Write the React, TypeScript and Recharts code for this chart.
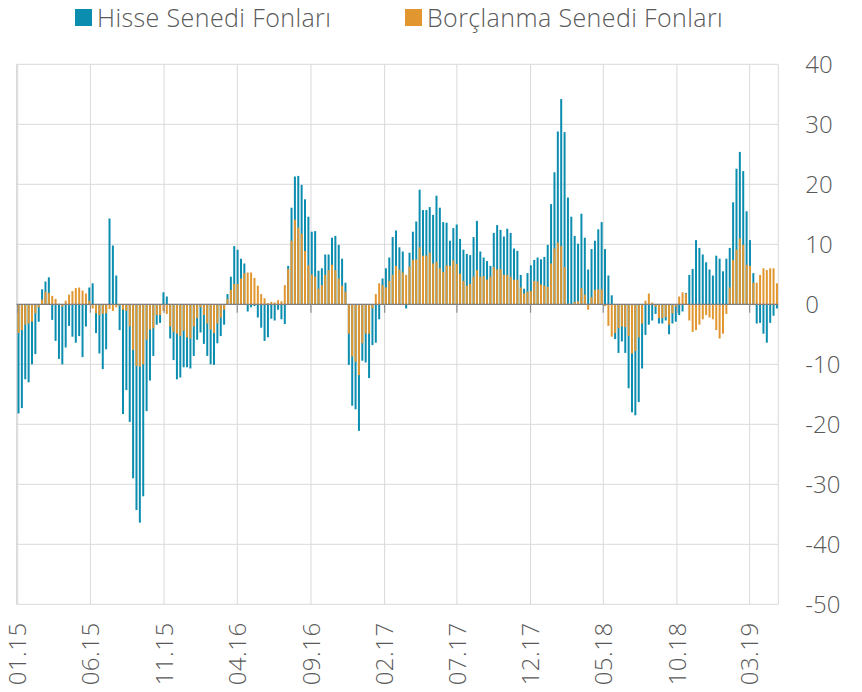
import React from 'react';
import { BarChart, Bar, XAxis, YAxis, CartesianGrid, ReferenceLine } from 'recharts';

// weekly flows, first observation on 02.01.2015 (day 1 counted from 01.01.2015)
const firstDay = 1;

const tickLabels = ['01.15', '06.15', '11.15', '04.16', '09.16', '02.17', '07.17', '12.17', '05.18', '10.18', '03.19'];
const yTicks = [-50, -40, -30, -20, -10, 0, 10, 20, 30, 40];

const hisse = [
  -18.2, -17.3, -12.5, -13, -10, -8.3, -2.9, 2.5, 3.8, 4.5,
  -2.6, -6.1, -9.1, -10, -7.2, -3.6, -5.4, -6.4, -5.3, -8.8,
  -3.7, 2.8, 3.5, -4.8, -8.2, -10.8, -7.5, 14.3, 9.8, 4.8,
  -4.3, -18.3, -14.3, -19.6, -29, -34.3, -36.4, -32, -17.8, -12.7,
  -8.6, -3.4, -3.1, 2, 1.3, -5.7, -9.3, -12.5, -12.2, -10.5,
  -10.5, -10.7, -8.6, -5.9, -4.7, -6.6, -8.6, -10, -10.1, -6.5,
  -5.3, -3.4, 1.7, 4.6, 9.7, 9.1, 7.6, 6.8, -1.2, -0.5,
  -0.3, -2.2, -3.9, -6.1, -5.5, -2.4, -2.7, -0.9, -2.5, -3.3,
  6.4, 16.1, 21.3, 21.4, 19.9, 17.5, 14.6, 12.1, 12.2, 5.6,
  6, 8.3, 8.3, 11.1, 11.4, 9.9, 7.6, 3.6, -10.1, -16.9,
  -17.5, -21.1, -9.4, -9.7, -12.3, -6.8, -6.4, -2.5, 4.3, 6,
  7.8, 11.2, 12.3, 9.5, 8.8, -0.7, 8.6, 12.1, 13.8, 19.1,
  15.7, 15.7, 16.2, 14.9, 18.1, 16.1, 13.7, 13.6, 10.6, 12.7,
  13.3, 10.9, 9.1, 8.4, 8.2, 11.2, 13.9, 8.8, 7.8, 7.2,
  6.4, 11.9, 13.2, 12.4, 11.3, 12.6, 11.9, 9.3, 8.9, 4.9,
  2.6, 5.2, 6.5, 7.4, 7.8, 7.5, 7.9, 9.9, 16.7, 22,
  28.8, 34.2, 28.7, 17.8, 14.6, 11.4, 10.1, 15.1, 11.1, 5.8,
  9.2, 10.6, 12.5, 13.7, 9.2, 4.8, 1.5, -5.8, -8.1, -6.2,
  -8.1, -14, -18, -18.5, -16.3, -10.7, -5.1, -3.4, -2.7, -1.6,
  -3.2, -3.2, -2.7, -5, -3.2, -2.9, -1.8, -1.2, 1.9, 4.9,
  5.9, 10.7, 9.4, 8.3, 7, 5.8, 4.8, 8.1, 7.6, 5.5,
  7.6, 9.4, 17, 22.6, 25.4, 22.2, 15.5, 10.7, 5.2, -3.2,
  -3.1, -4.9, -6.4, -3.1, -1.9, -0.7,
];

const borclanma = [
  -4.8, -4.3, -3.4, -3.2, -2.9, -1.5, -0.5, 0.8, 2.1, 1.9,
  1.4, 0.9, 0.1, -0.4, 0.6, 1.6, 2.2, 2.7, 2.8, 2.3,
  1.8, 0.6, -0.7, -1.5, -1.8, -1.6, -1.5, -0.8, -1.1, -0.5,
  -0.2, -0.9, -1.1, -3.7, -7.6, -10.3, -10.4, -10, -5.9, -4.2,
  -4, -1.8, -1.8, -1.1, -1.6, -3.7, -4.6, -4.9, -5.3, -4.4,
  -5.5, -5.7, -3.7, -2.3, -0.5, -1.8, -3.2, -4.2, -4.8, -3.2,
  -2.2, -0.9, 0.9, 2.4, 3.4, 3.4, 4.3, 5.2, 5.3, 5.3,
  4.4, 3.1, 1.7, 1, 0.2, 0.4, 0.3, 0.7, 0.5, 3.2,
  5.9, 10.6, 14.1, 12.8, 11.8, 8.9, 6.5, 5, 4.6, 2.6,
  3.2, 4.9, 5.7, 6.6, 5.7, 4.3, 3.1, 2.1, -4.9, -8.7,
  -9.6, -11.8, -6.5, -4.9, -4.9, -0.7, 1.7, 3.5, 3.2, 2.8,
  3.9, 4.9, 6.4, 5.8, 5.3, 4.9, 6.3, 7.4, 7.5, 9.5,
  8.1, 8.1, 8.6, 6.8, 7.1, 6, 5.4, 6.5, 6.4, 7.3,
  6.7, 5.1, 3.9, 3.1, 3.4, 4.6, 5.7, 4.6, 4.7, 4.1,
  4.6, 6.2, 5.8, 5.9, 4.9, 4.9, 4.6, 4.1, 4.1, 2.8,
  1.8, 2.1, 2.2, 3.9, 3.8, 3.3, 3.1, 2.9, 6.8, 9.3,
  10.3, 9.7, 6.2, 0.1, 0, 0.4, 0.5, 2.7, 1.6, -0.9,
  1.2, 2.4, 2.5, 2.5, -0.3, -3.6, -5.4, -4.8, -4, -3.7,
  -3.8, -5.3, -8.2, -7.8, -5.5, -3.2, 0.6, 1.8, 0.3, -0.4,
  -2.3, -2.3, -2.1, -3.4, -1.5, -0.4, 1.3, 2, 1.8, -2.7,
  -4.6, -4.3, -3.4, -2.5, -1.8, -2.2, -2.5, -4.3, -5.7, -4.9,
  -1.6, 2.8, 7.4, 9.1, 11, 9.9, 6.6, 6.4, 3.6, 3.6,
  4.9, 6, 5.7, 6, 6, 3.5,
];

const TEAL = '#0b8db0';
const ORANGE = '#e2962f';
const TEXT = '#595959';
const FONT = '"Open Sans", "Noto Sans", sans-serif';

// "MM.YY" -> days after 01.01.2015
const dayOf = (label: string) => {
  const [m, y] = label.split('.').map(Number);
  return (Date.UTC(2000 + y, m - 1, 1) - Date.UTC(2015, 0, 1)) / 86400000;
};
const tickDays = tickLabels.map(dayOf);
const labelOfDay: Record<number, string> = {};
tickDays.forEach((d, i) => { labelOfDay[d] = tickLabels[i]; });

const data = hisse.map((h, i) => ({
  week: i,
  day: firstDay + 7 * i,
  hisse: h,
  borclanma: borclanma[i],
}));

const dayDomain = [firstDay - 3.5, firstDay + 7 * (hisse.length - 1) + 3.5];

const DateTick = ({ x, y, payload }: any) => (
  <text
    x={x}
    y={y}
    dy="0.36em"
    transform={`rotate(-90, ${x}, ${y})`}
    textAnchor="end"
    fill={TEXT}
    fontSize={24}
    fontWeight={300}
    fontFamily={FONT}
    letterSpacing={0.5}
  >
    {labelOfDay[payload.value]}
  </text>
);

const LegendItem = ({ color, label }: { color: string; label: string }) => (
  <div style={{ display: 'flex', alignItems: 'center' }}>
    <div style={{ width: 17, height: 17, background: color, marginRight: 5 }} />
    <span>{label}</span>
  </div>
);

const App: React.FC = () => {
  return (
    <div style={{ position: 'absolute', left: 0, top: 0, width: 862, height: 692, background: '#fff' }}>
      <div
        style={{
          position: 'absolute',
          top: 2,
          left: 75,
          display: 'flex',
          fontFamily: FONT,
          fontWeight: 300,
          fontSize: 25,
          letterSpacing: 0.4,
          color: TEXT,
          lineHeight: '30px',
        }}
      >
        <div style={{ width: 330 }}>
          <LegendItem color={TEAL} label="Hisse Senedi Fonları" />
        </div>
        <LegendItem color={ORANGE} label="Borçlanma Senedi Fonları" />
      </div>
      <BarChart
        width={862}
        height={692}
        data={data}
        margin={{ top: 64.3, right: 0, left: 16.5, bottom: 0 }}
        barGap={-2}
      >
        <CartesianGrid stroke="#d9d9d9" strokeWidth={1} />
        <XAxis
          dataKey="day"
          type="number"
          domain={dayDomain}
          allowDataOverflow
          ticks={tickDays}
          interval={0}
          axisLine={false}
          tickLine={false}
          tickSize={0}
          tickMargin={18}
          height={87.7}
          tick={<DateTick />}
        />
        <XAxis xAxisId="cat" dataKey="week" type="category" hide />
        <YAxis
          orientation="right"
          domain={[-50, 40]}
          ticks={yTicks}
          interval={0}
          axisLine={false}
          tickLine={false}
          tickSize={0}
          tickMargin={27}
          width={83.7}
          tick={{ fill: TEXT, fontSize: 24, fontWeight: 300, fontFamily: FONT }}
        />
        <Bar xAxisId="cat" dataKey="hisse" fill={TEAL} barSize={2} isAnimationActive={false} />
        <Bar xAxisId="cat" dataKey="borclanma" fill={ORANGE} barSize={2} isAnimationActive={false} />
        <ReferenceLine y={0} stroke="#7f7f7f" strokeWidth={1.2} />
        {tickDays.map((d) => (
          <ReferenceLine
            key={d}
            segment={[{ x: d, y: 0 }, { x: d, y: -1.4 }]}
            stroke="#8c8c8c"
            strokeWidth={1.2}
          />
        ))}
      </BarChart>
    </div>
  );
};

export default App;
